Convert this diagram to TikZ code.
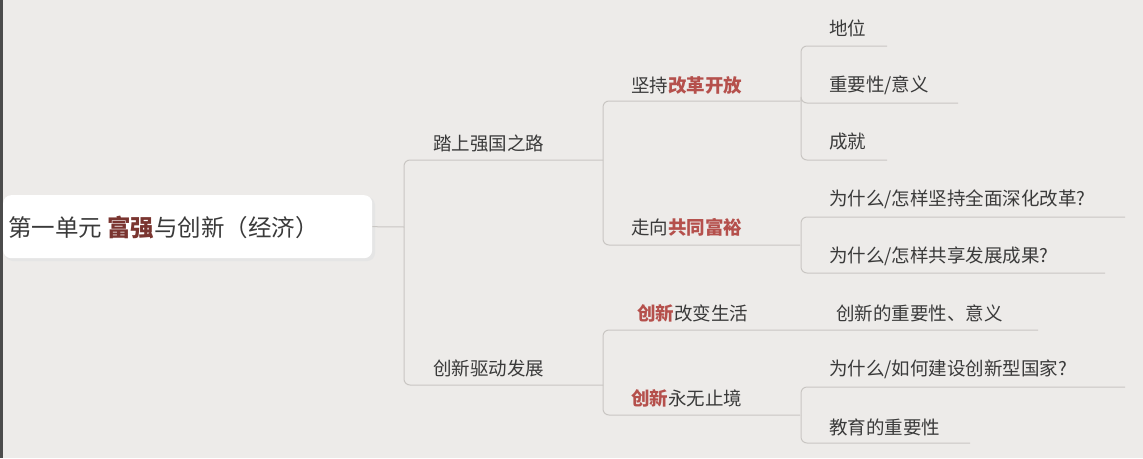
\documentclass[tikz,border=0pt]{standalone}
\usepackage{fontspec}
\setmainfont{Noto Sans CJK SC}
\definecolor{bg}{HTML}{EDEBE9}
\definecolor{ln}{HTML}{C9C6C3}
\definecolor{tx}{HTML}{3A3A3A}
\definecolor{rd}{HTML}{B5504C}
\definecolor{dr}{HTML}{7A3530}
\begin{document}
\begin{tikzpicture}[x=1pt,y=-1pt,
  lbl/.style={anchor=west,inner sep=0pt,text=tx,font=\fontsize{18.5}{18.5}\selectfont},
  con/.style={draw=ln,line width=1pt,rounded corners=6pt}]
\fill[bg] (0,0) rectangle (1143,458);
\useasboundingbox (0,0) rectangle (1143,458);
\fill[black!70] (0,0) rectangle (3,458);
\fill[black!10,rounded corners=8pt] (5,197) rectangle (375,261);
\node[fill=white,rounded corners=8pt,minimum width=369pt,minimum height=63pt,inner sep=0pt,anchor=north west] (root) at (3,195) {};
\node[lbl,font=\fontsize{23.5}{23.5}\selectfont] (rt) at (8,228) {第一单元 \textcolor{dr}{\textbf{富强}}与创新（经济）};
\node[lbl] (a) at (433,143) {踏上强国之路};
\node[lbl] (b) at (433,368) {创新驱动发展};
\node[lbl] (a1) at (631,85) {坚持\textcolor{rd}{\textbf{改革开放}}};
\node[lbl] (a2) at (631,227) {走向\textcolor{rd}{\textbf{共同富裕}}};
\node[lbl] (b1) at (637,313) {\textcolor{rd}{\textbf{创新}}改变生活};
\node[lbl] (b2) at (631,398) {\textcolor{rd}{\textbf{创新}}永无止境};
\node[lbl] (c1) at (829,28) {地位};
\node[lbl] (c2) at (829,85) {重要性/意义};
\node[lbl] (c3) at (829,142) {成就};
\node[lbl] (d1) at (829,199) {为什么/怎样坚持全面深化改革?};
\node[lbl] (d2) at (829,256) {为什么/怎样共享发展成果?};
\node[lbl] (e1) at (836,313) {创新的重要性、意义};
\node[lbl] (f1) at (829,369) {为什么/如何建设创新型国家?};
\node[lbl] (f2) at (829,427) {教育的重要性};
\draw[con] (root.east) -- (404,227);
\draw[con] (404,227) |- (603,160);
\draw[con] (404,227) |- (603,385);
\draw[con] (603,160) |- (800,101);
\draw[con] (603,160) |- (800,245);
\draw[con] (603,385) |- (778,330) -- (1038,330);
\draw[con] (603,385) |- (800,415);
\draw[con] (801,101) |- (887,46);
\draw[con] (801,101) -- (801,103) -- (958,103);
\draw[con] (801,101) |- (887,160);
\draw[con] (801,245) |- (1125,217);
\draw[con] (801,245) |- (1105,273);
\draw[con] (801,415) |- (1125,387);
\draw[con] (801,415) |- (970,443);
\end{tikzpicture}
\end{document}
